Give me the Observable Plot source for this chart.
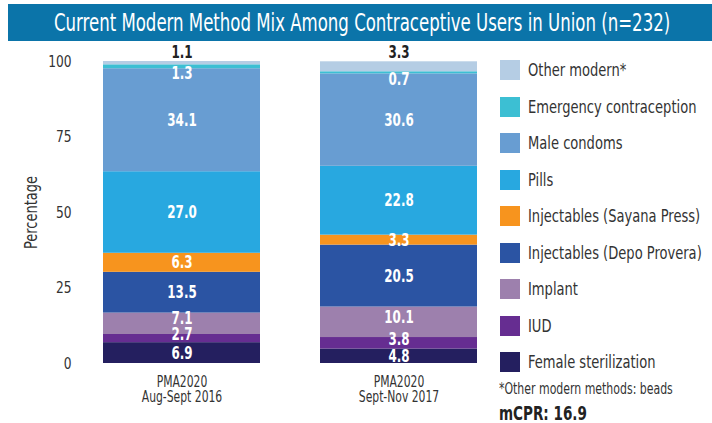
<!DOCTYPE html>
<html><head><meta charset="utf-8">
<script src="https://cdn.jsdelivr.net/npm/d3@7"></script>
<script src="https://cdn.jsdelivr.net/npm/@observablehq/plot@0.6"></script>
<style>
body{margin:0;background:#fff;font-family:"DejaVu Sans Condensed","DejaVu Sans",sans-serif;font-stretch:condensed}
#wrap{position:relative;width:712px;height:423px;overflow:hidden}
#title{position:absolute;left:8px;top:4px;width:704px;height:37px;background:#0b74a9;}
#title span{position:absolute;left:352px;top:4px;color:#fff;font-size:25px;line-height:29px;white-space:nowrap;transform-origin:0 50%}
#chart{position:absolute;left:0;top:41px}
.lg{position:absolute;left:500px;height:20px;white-space:nowrap}
.lg span.sw{position:absolute;left:0;top:0;width:20px;height:20px}
.lg span.tx{position:absolute;left:28px;top:-1px;font-size:18px;line-height:22px;color:#333;transform-origin:0 50%}
.nt{position:absolute;left:499px;white-space:nowrap;transform-origin:0 50%}
#foot{top:379px;font-size:16px;line-height:20px;color:#333}
#mcpr{top:403px;font-size:20px;line-height:20px;font-weight:bold;color:#222}
</style></head>
<body>
<div id="wrap">
  <div id="title"><span>Current Modern Method Mix Among Contraceptive Users in Union (n=232)</span></div>
  <div id="chart"></div>
  <div id="legend"></div>
  <div id="foot" class="nt">*Other modern methods: beads</div>
  <div id="mcpr" class="nt">mCPR: 16.9</div>
</div>
<script>
const surveys = ["PMA2020\nAug-Sept 2016", "PMA2020\nSept-Nov 2017"];
const methods = ["Female sterilization", "IUD", "Implant", "Injectables (Depo Provera)", "Injectables (Sayana Press)", "Pills", "Male condoms", "Emergency contraception", "Other modern*"];
const colors = ["#241f5f", "#662d91", "#9d80ad", "#2b54a3", "#f7941e", "#28a8e0", "#689dd2", "#3cbfd3", "#b5cde4"];
const values2016 = [6.9, 2.7, 7.1, 13.5, 6.3, 27.0, 34.1, 1.3, 1.1];
const values2017 = [4.8, 3.8, 10.1, 20.5, 3.3, 22.8, 30.6, 0.7, 3.3];
const yTicks = [0, 25, 50, 75, 100];

const rows = [];
[values2016, values2017].forEach((vals, i) => {
  let acc = 0;
  vals.forEach((v, j) => {
    rows.push({survey: surveys[i], method: methods[j], value: v, y1: acc, y2: acc + v, mid: acc + v / 2});
    acc += v;
  });
});
const inside = rows.filter(d => !["Other modern*", "Emergency contraception", "Implant", "IUD"].includes(d.method));
const implant = rows.filter(d => d.method === "Implant");
const iud = rows.filter(d => d.method === "IUD");
const ec = rows.filter(d => d.method === "Emergency contraception");
const other = rows.filter(d => d.method === "Other modern*");

const fontFam = '"DejaVu Sans Condensed","DejaVu Sans",sans-serif';
const lab = {x: "survey", text: d => d.value.toFixed(1), fill: "white", fontWeight: "bold", fontSize: 17};
const plot = Plot.plot({
  width: 712, height: 382,
  marginLeft: 102, marginRight: 234, marginTop: 20, marginBottom: 60,
  style: {fontFamily: fontFam, fontSize: "15px", color: "#333", background: "transparent"},
  x: {domain: surveys, paddingInner: 0.275, paddingOuter: 0, label: null},
  y: {domain: [0, 100], ticks: yTicks, label: null},
  color: {domain: methods, range: colors},
  marks: [
    Plot.axisY({ticks: yTicks, tickSize: 0, tickPadding: 31, fontSize: 16, label: null}),
    Plot.axisX({tickSize: 0, tickPadding: 12, fontSize: 15, label: null, lineHeight: 1.05}),
    Plot.barY(rows, {x: "survey", y1: "y1", y2: "y2", fill: "method"}),
    Plot.text(inside, {...lab, y: "mid"}),
    Plot.text(implant, {...lab, y: "mid", dy: -5}),
    Plot.text(iud, {...lab, y: "mid", dy: -4}),
    Plot.text(ec, {...lab, y: "mid", dy: 7}),
    Plot.text(other, {...lab, y: "y2", dy: -9, fill: "#222"}),
    Plot.text(["Percentage"], {frameAnchor: "left", textAnchor: "middle", dx: -71, rotate: -90, text: d => d, fontSize: 17, fill: "#333"})
  ]
});
document.getElementById("chart").appendChild(plot);

// condense SVG texts horizontally (in their own frame)
function squeeze(t, k) {
  const tr = t.getAttribute("transform");
  if (tr) {
    t.setAttribute("transform", tr + ` scale(${k},1)`);
  } else {
    t.style.transformBox = "fill-box"; t.style.transformOrigin = "center"; t.style.transform = `scaleX(${k})`;
  }
}
plot.querySelectorAll('g[aria-label="text"] text').forEach(t => {
  if (t.textContent === "Percentage") squeeze(t, 0.85); else squeeze(t, 0.78);
});
plot.querySelectorAll('g[aria-label="x-axis tick label"] text').forEach(t => squeeze(t, 0.8));
plot.querySelectorAll('g[aria-label="y-axis tick label"] text').forEach(t => squeeze(t, 0.85));

// title fit
const ts = document.querySelector("#title span");
const tw = ts.offsetWidth, tScale = 616 / tw;
ts.style.transform = `translateX(${-tw * tScale / 2 + 2}px) scaleX(${tScale})`;

const legend = document.getElementById("legend");
methods.slice().reverse().forEach((m, i) => {
  const div = document.createElement("div");
  div.className = "lg";
  div.style.top = (60 + i * 36.5) + "px";
  const sw = document.createElement("span");
  sw.className = "sw";
  sw.style.background = colors[methods.indexOf(m)];
  const tx = document.createElement("span");
  tx.className = "tx";
  tx.textContent = m;
  div.appendChild(sw); div.appendChild(tx);
  legend.appendChild(div);
});
const txs = [...document.querySelectorAll(".lg .tx")];
const ref = txs.find(t => t.textContent === "Injectables (Sayana Press)");
const lScale = 172 / ref.offsetWidth;
txs.forEach(t => t.style.transform = `scaleX(${lScale})`);
const foot = document.getElementById("foot");
foot.style.transform = `scaleX(${174 / foot.offsetWidth})`;
const mc = document.getElementById("mcpr");
mc.style.transform = `scaleX(${88 / mc.offsetWidth})`;
</script>
</body></html>
